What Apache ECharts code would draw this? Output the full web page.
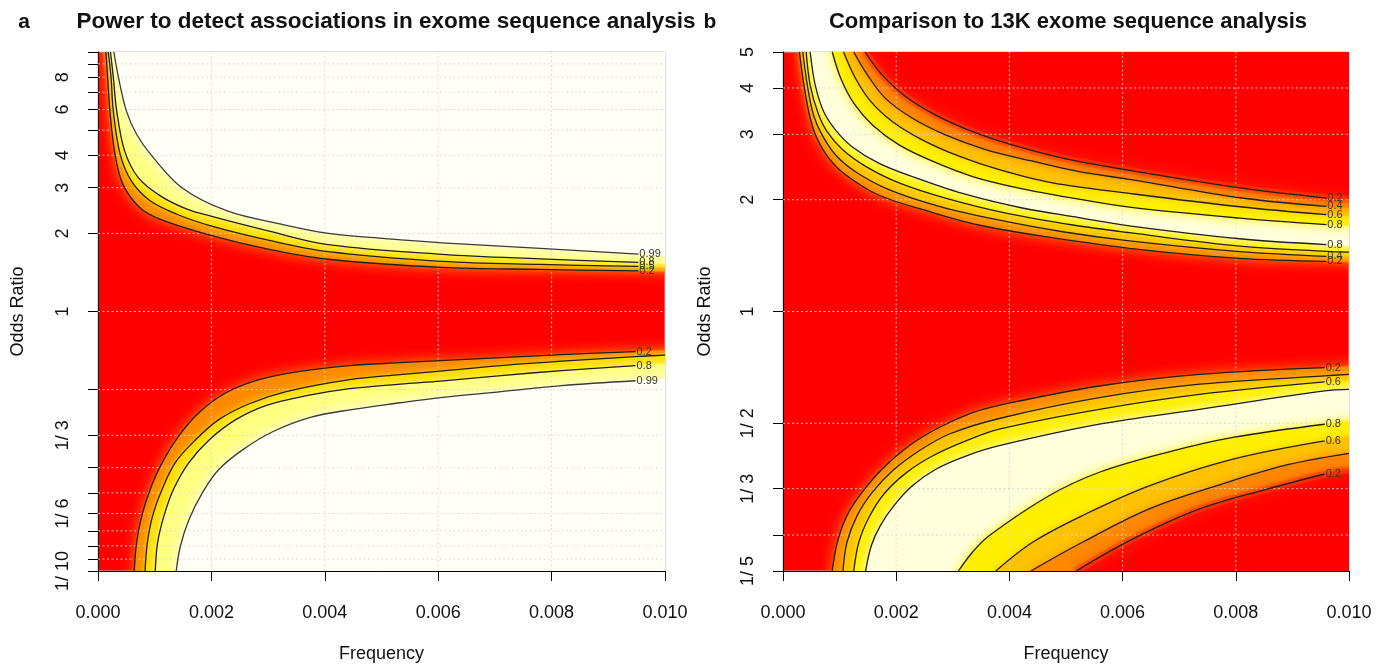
<!DOCTYPE html>
<html><head><meta charset="utf-8">
<script src="https://cdn.jsdelivr.net/npm/echarts@6/dist/echarts.min.js"></script>
<style>html,body{margin:0;padding:0;background:#fff}#c{width:1390px;height:668px}</style>
</head><body><div id="c"></div>
<script>
// ---------- ticks ----------
const freqTicks = [0, 0.002, 0.004, 0.006, 0.008, 0.010];
const leftOrTicks = [0.1, 1/9, 1/8, 1/7, 1/6, 1/5, 1/4, 1/3, 1/2, 1, 2, 3, 4, 5, 6, 7, 8, 9, 10];
const leftOrLabels = ['1/ 10','','','','1/ 6','','','1/ 3','','1','2','3','4','','6','','8','',''];
const rightOrTicks = [0.2, 0.25, 1/3, 0.5, 1, 2, 3, 4, 5];
const rightOrLabels = ['1/ 5','','1/ 3','1/ 2','1','2','3','4','5'];

// ---------- panel a: power contours [frequency, odds ratio] ----------
const aU02 = [[0.00014,10],[0.00017,8.0],[0.00021,5.93],[0.00030,4.04],[0.00044,3.09],[0.00074,2.51],[0.00110,2.265],[0.00199,1.965],[0.00302,1.735],[0.00406,1.59],[0.00607,1.479],[0.0078,1.453],[0.00953,1.433],[0.0100,1.427]];
const aU05 = [[0.00018,10],[0.00023,8.0],[0.00027,5.93],[0.00039,4.04],[0.00059,3.18],[0.00092,2.67],[0.00139,2.37],[0.00199,2.138],[0.00302,1.88],[0.00406,1.70],[0.00607,1.56],[0.0078,1.518],[0.00953,1.492],[0.0100,1.486]];
const aU08 = [[0.00022,10],[0.00027,8.0],[0.00033,5.93],[0.00047,4.16],[0.00071,3.28],[0.00110,2.79],[0.00157,2.48],[0.00199,2.33],[0.00302,2.04],[0.00406,1.81],[0.00607,1.66],[0.0078,1.595],[0.00953,1.546],[0.0100,1.532]];
const aU99 = [[0.00028,10],[0.00036,8.0],[0.00050,5.93],[0.00068,4.82],[0.00095,3.98],[0.00148,3.0],[0.00228,2.44],[0.00323,2.17],[0.00406,2.0],[0.00507,1.91],[0.00607,1.84],[0.0078,1.75],[0.00953,1.665],[0.0100,1.645]];
const aL02 = [[0.00064,0.1],[0.00068,0.128],[0.00077,0.162],[0.00092,0.206],[0.00113,0.261],[0.00142,0.330],[0.00178,0.407],[0.00225,0.485],[0.00284,0.546],[0.00356,0.588],[0.00444,0.619],[0.00533,0.635],[0.00604,0.647],[0.00711,0.664],[0.00818,0.682],[0.00948,0.701],[0.0100,0.707]];
const aL05 = [[0.00083,0.1],[0.00087,0.128],[0.00096,0.162],[0.00113,0.206],[0.00136,0.261],[0.00172,0.320],[0.00213,0.383],[0.00267,0.441],[0.00332,0.491],[0.00444,0.546],[0.00533,0.571],[0.00604,0.589],[0.00711,0.619],[0.00818,0.644],[0.00948,0.670],[0.0100,0.679]];
const aL08 = [[0.00101,0.1],[0.00105,0.128],[0.00116,0.162],[0.00133,0.206],[0.00160,0.261],[0.00196,0.320],[0.00243,0.383],[0.00296,0.434],[0.00368,0.474],[0.00444,0.504],[0.00533,0.525],[0.00604,0.539],[0.00711,0.566],[0.00818,0.592],[0.00948,0.619],[0.0100,0.627]];
const aL99 = [[0.00138,0.1],[0.00145,0.124],[0.00160,0.157],[0.00184,0.200],[0.00213,0.246],[0.00255,0.293],[0.00308,0.344],[0.00373,0.390],[0.00444,0.418],[0.00533,0.445],[0.00604,0.466],[0.00711,0.491],[0.00818,0.518],[0.00948,0.541],[0.0100,0.549]];

// ---------- panel b: comparison contours [frequency, odds ratio] ----------
const bUpI02 = [[0.00029,5.0],[0.00037,4.07],[0.00048,3.32],[0.00060,2.93],[0.00081,2.59],[0.00110,2.34],[0.00169,2.06],[0.00258,1.86],[0.00346,1.71],[0.00464,1.59],[0.00612,1.48],[0.00807,1.39],[0.0096,1.365],[0.0100,1.358]];
const bUpI04 = [[0.00035,5.0],[0.00043,4.07],[0.00054,3.38],[0.00069,2.99],[0.00093,2.64],[0.00128,2.38],[0.00187,2.13],[0.00276,1.92],[0.00376,1.77],[0.00494,1.64],[0.00612,1.55],[0.00807,1.45],[0.0096,1.408],[0.0100,1.401]];
const bUpI06 = [[0.00041,5.0],[0.00048,4.07],[0.00062,3.42],[0.00078,3.05],[0.00105,2.73],[0.00146,2.46],[0.00205,2.22],[0.00287,2.02],[0.00394,1.84],[0.00512,1.71],[0.00612,1.63],[0.00807,1.50],[0.0096,1.452],[0.0100,1.445]];
const bUpI08 = [[0.00048,5.0],[0.00057,4.07],[0.00072,3.45],[0.00093,3.08],[0.00122,2.78],[0.00169,2.51],[0.00228,2.31],[0.00317,2.08],[0.00423,1.90],[0.00523,1.79],[0.00612,1.70],[0.00807,1.57],[0.0096,1.514],[0.0100,1.504]];
const bUpO08 = [[0.00087,5.0],[0.00102,4.25],[0.00125,3.64],[0.00158,3.18],[0.00205,2.81],[0.00264,2.54],[0.00335,2.31],[0.00417,2.15],[0.00512,2.02],[0.00612,1.91],[0.00807,1.784],[0.0096,1.713],[0.0100,1.703]];
const bUpO06 = [[0.00107,5.0],[0.00128,4.25],[0.00155,3.68],[0.00193,3.25],[0.00246,2.90],[0.00311,2.62],[0.00382,2.41],[0.00476,2.22],[0.00612,2.08],[0.00807,1.915],[0.0096,1.823],[0.0100,1.811]];
const bUpO04 = [[0.00125,5.0],[0.00149,4.34],[0.00181,3.75],[0.00228,3.32],[0.00287,2.99],[0.00358,2.73],[0.00441,2.54],[0.00523,2.38],[0.00612,2.27],[0.00807,2.025],[0.0096,1.919],[0.0100,1.903]];
const bUpO02 = [[0.00145,5.0],[0.00175,4.34],[0.00217,3.79],[0.00270,3.38],[0.00335,3.05],[0.00405,2.81],[0.00494,2.59],[0.00612,2.40],[0.00807,2.154],[0.0096,2.021],[0.0100,2.006]];
const bLoI02 = [[0.00087,0.2],[0.00096,0.239],[0.00113,0.282],[0.00140,0.326],[0.00175,0.376],[0.00223,0.435],[0.00276,0.487],[0.00335,0.534],[0.00382,0.559],[0.00559,0.630],[0.00736,0.677],[0.00957,0.706],[0.0100,0.712]];
const bLoI04 = [[0.00106,0.2],[0.00113,0.239],[0.00131,0.282],[0.00158,0.326],[0.00193,0.372],[0.00240,0.421],[0.00293,0.467],[0.00382,0.515],[0.00559,0.586],[0.00736,0.637],[0.00957,0.671],[0.0100,0.677]];
const bLoI06 = [[0.00125,0.2],[0.00134,0.239],[0.00152,0.279],[0.00178,0.322],[0.00217,0.367],[0.00264,0.408],[0.00323,0.448],[0.00382,0.482],[0.00559,0.545],[0.00736,0.598],[0.00957,0.646],[0.0100,0.648]];
const bLoI08 = [[0.00146,0.2],[0.00156,0.234],[0.00172,0.265],[0.00196,0.300],[0.00228,0.339],[0.00270,0.376],[0.00323,0.408],[0.00382,0.435],[0.00559,0.497],[0.00736,0.545],[0.00957,0.611],[0.0100,0.617]];
const bLoO08 = [[0.00310,0.2],[0.00335,0.225],[0.00364,0.249],[0.00470,0.319],[0.00559,0.369],[0.00677,0.417],[0.00795,0.458],[0.00957,0.497],[0.0100,0.509]];
const bLoO06 = [[0.00376,0.2],[0.00441,0.239],[0.00529,0.282],[0.00647,0.339],[0.00795,0.400],[0.00957,0.448],[0.0100,0.459]];
const bLoO04 = [[0.00438,0.2],[0.00529,0.239],[0.00647,0.294],[0.00765,0.339],[0.00883,0.384],[0.0100,0.415]];
const bLoO02 = [[0.00518,0.2],[0.00618,0.244],[0.00736,0.294],[0.00854,0.332],[0.00957,0.365],[0.0100,0.374]];

// ---------- styling ----------
const FONT = "'Liberation Sans', Arial, Helvetica, sans-serif";
const C02 = '#FF8A00', C04 = '#FFC200', C06 = '#FFF000', C08 = '#FFFFDC';

const panelARegions = [
  {pts: aU02, side: 'top', color: C02, blur: 14},
  {pts: aU05, side: 'top', color: '#FFDC00', blur: 8},
  {pts: aU08, side: 'top', color: '#FFFF80', blur: 10},
  {pts: aU99, side: 'top', color: '#FFFFF6', blur: 14},
  {pts: aL02, side: 'bottom', color: C02, blur: 14},
  {pts: aL05, side: 'bottom', color: '#FFDC00', blur: 8},
  {pts: aL08, side: 'bottom', color: '#FFFF80', blur: 10},
  {pts: aL99, side: 'bottom', color: '#FFFFF6', blur: 14}
];
const panelBRegions = [
  {pts: bUpI02, side: 'top', color: C02, blur: 14},
  {pts: bUpI04, side: 'top', color: C04, blur: 8},
  {pts: bUpI06, side: 'top', color: C06, blur: 8},
  {pts: bUpI08, side: 'top', color: C08, blur: 12},
  {pts: bUpO08, side: 'top', color: C06, blur: 12},
  {pts: bUpO06, side: 'top', color: C04, blur: 8},
  {pts: bUpO04, side: 'top', color: C02, blur: 8},
  {pts: bUpO02, side: 'top', color: '#FF0000', blur: 6, glow: true},
  {pts: bLoI02, side: 'bottom', color: C02, blur: 14},
  {pts: bLoI04, side: 'bottom', color: C04, blur: 8},
  {pts: bLoI06, side: 'bottom', color: C06, blur: 8},
  {pts: bLoI08, side: 'bottom', color: C08, blur: 12},
  {pts: bLoO08, side: 'bottom', color: C06, blur: 12},
  {pts: bLoO06, side: 'bottom', color: C04, blur: 8},
  {pts: bLoO04, side: 'bottom', color: C02, blur: 8},
  {pts: bLoO02, side: 'bottom', color: '#FF0000', blur: 6, glow: true}
];
const panelALines = [
  {pts: aU02, label: '0.2'}, {pts: aU05, label: '0.5'}, {pts: aU08, label: '0.8'}, {pts: aU99, label: '0.99', stroke: '#3a3a3a'},
  {pts: aL02, label: '0.2'}, {pts: aL05, label: ''}, {pts: aL08, label: '0.8'}, {pts: aL99, label: '0.99', stroke: '#3a3a3a'}
];
const panelBLines = [
  {pts: bUpI02, label: '0.2'}, {pts: bUpI04, label: '0.4'}, {pts: bUpI06, label: ''}, {pts: bUpI08, label: '0.8'},
  {pts: bUpO08, label: '0.8'}, {pts: bUpO06, label: '0.6'}, {pts: bUpO04, label: '0.4'}, {pts: bUpO02, label: '0.2'},
  {pts: bLoI02, label: '0.2'}, {pts: bLoI04, label: ''}, {pts: bLoI06, label: '0.6'}, {pts: bLoI08, label: ''},
  {pts: bLoO08, label: '0.8'}, {pts: bLoO06, label: '0.6'}, {pts: bLoO04, label: ''}, {pts: bLoO02, label: '0.2'}
];

const SMOOTH = 0.35;

function bandSeries(gi, regions) {
  return {
    type: 'custom', xAxisIndex: gi, yAxisIndex: gi, z: 1, silent: true,
    data: [[0.005, 1]],
    renderItem: function (params, api) {
      const cs = params.coordSys;
      const children = [];
      regions.forEach(function (r) {
        const pts = r.pts;
        const first = pts[0], last = pts[pts.length - 1];
        const far = r.side === 'top' ? 1e4 : 1e-4;
        const curve = pts.map(function (p) { return api.coord(p); });
        const poly = curve.slice();
        poly.push(api.coord([0.013, last[1]]));
        poly.push(api.coord([0.013, far]));
        poly.push(api.coord([first[0], far]));
        children.push({type: 'polyline', shape: {points: poly, smooth: SMOOTH},
          style: {fill: r.color, stroke: null, shadowBlur: r.blur, shadowColor: r.color}});
        if (r.glow) {
          children.push({type: 'polyline', shape: {points: curve, smooth: SMOOTH},
            style: {fill: null, stroke: 'rgba(255,70,0,0.55)', lineWidth: 7, shadowBlur: 14, shadowColor: 'rgba(255,80,0,0.9)'}});
        }
      });
      return {type: 'group', children: children,
        clipPath: {type: 'rect', shape: {x: cs.x, y: cs.y, width: cs.width, height: cs.height}}};
    }
  };
}

function gridSeries(gi, orTicks, orMin, orMax) {
  return {
    type: 'custom', xAxisIndex: gi, yAxisIndex: gi, z: 2, silent: true,
    data: [[0.005, 1]],
    renderItem: function (params, api) {
      const children = [];
      const st = {stroke: 'rgba(215,215,215,0.9)', lineWidth: 1, lineDash: [2, 2.5]};
      freqTicks.forEach(function (f) {
        if (f <= 0 || f >= 0.01) return;
        const a = api.coord([f, orMin]), b = api.coord([f, orMax]);
        children.push({type: 'line', shape: {x1: a[0], y1: a[1], x2: b[0], y2: b[1]}, style: st});
      });
      orTicks.forEach(function (v) {
        if (v <= orMin || v >= orMax) return;
        const a = api.coord([0, v]), b = api.coord([0.01, v]);
        children.push({type: 'line', shape: {x1: a[0], y1: a[1], x2: b[0], y2: b[1]}, style: st});
      });
      return {type: 'group', children: children};
    }
  };
}

function lineSeries(gi, lines) {
  return {
    type: 'custom', xAxisIndex: gi, yAxisIndex: gi, z: 3, silent: true,
    data: [[0.005, 1]],
    renderItem: function (params, api) {
      const children = [];
      lines.forEach(function (l) {
        const pts = l.label ? l.pts.slice(0, -1) : l.pts;
        const coords = pts.map(function (p) { return api.coord(p); });
        children.push({type: 'polyline', shape: {points: coords, smooth: SMOOTH},
          style: {fill: null, stroke: l.stroke || '#1e1e1e', lineWidth: 1.3}});
        if (l.label) {
          const e = coords[coords.length - 1];
          children.push({type: 'text', x: e[0] + 1, y: e[1],
            style: {text: l.label, fill: '#333', fontSize: 11, fontFamily: FONT, align: 'left', verticalAlign: 'middle'}});
        }
      });
      return {type: 'group', children: children};
    }
  };
}

function labelFor(vals, labels) {
  return function (v) {
    for (let i = 0; i < vals.length; i++) {
      if (Math.abs(vals[i] - v) < 1e-6 * Math.max(1, v)) return labels[i];
    }
    return '';
  };
}

function xAxisCfg(gi) {
  return {
    type: 'value', gridIndex: gi, min: 0, max: 0.01, interval: 0.002,
    axisLine: {show: true, onZero: false, lineStyle: {color: '#000', width: 1}},
    axisTick: {show: true, length: 10, lineStyle: {color: '#000'}},
    axisLabel: {formatter: function (v) { return v.toFixed(3); }, fontSize: 18, color: '#111', fontFamily: FONT, margin: 33},
    splitLine: {show: false},
    name: 'Frequency', nameLocation: 'middle', nameGap: 74,
    nameTextStyle: {fontSize: 18, color: '#111', fontFamily: FONT}
  };
}
function yAxisCfg(gi, ticks, labels, min, max, gap) {
  return {
    type: 'log', logBase: 10, gridIndex: gi, min: min, max: max,
    axisLine: {show: true, onZero: false, lineStyle: {color: '#000', width: 1}},
    axisTick: {show: true, length: 10, customValues: ticks, lineStyle: {color: '#000'}},
    axisLabel: {customValues: ticks.filter(function (v, i) { return labels[i]; }),
      formatter: labelFor(ticks, labels), rotate: 90, fontSize: 18, color: '#111', fontFamily: FONT, margin: 26},
    splitLine: {show: false}, minorTick: {show: false},
    name: 'Odds Ratio', nameLocation: 'middle', nameGap: gap, nameRotate: 90,
    nameTextStyle: {fontSize: 18, color: '#111', fontFamily: FONT}
  };
}

const chart = echarts.init(document.getElementById('c'), null, {renderer: 'canvas'});
chart.setOption({
  animation: false,
  backgroundColor: '#ffffff',
  grid: [
    {left: 98, top: 52, width: 567, height: 520, show: true, backgroundColor: '#FF0000', borderColor: '#bdbdbd', borderWidth: 1},
    {left: 783, top: 52, width: 566, height: 520, show: true, backgroundColor: '#FF0000', borderColor: '#bdbdbd', borderWidth: 1}
  ],
  xAxis: [xAxisCfg(0), xAxisCfg(1)],
  yAxis: [
    yAxisCfg(0, leftOrTicks, leftOrLabels, 0.1, 10, 71),
    yAxisCfg(1, rightOrTicks, rightOrLabels, 0.2, 5, 69)
  ],
  graphic: [
    {type: 'text', x: 24, y: 22, style: {text: 'a', fontSize: 21, fontWeight: 'bold', fontFamily: FONT, fill: '#111', align: 'center', verticalAlign: 'middle'}},
    {type: 'text', x: 386, y: 22, style: {text: 'Power to detect associations in exome sequence analysis', fontSize: 22.5, fontWeight: 'bold', fontFamily: FONT, fill: '#111', align: 'center', verticalAlign: 'middle'}},
    {type: 'text', x: 710, y: 22, style: {text: 'b', fontSize: 21, fontWeight: 'bold', fontFamily: FONT, fill: '#111', align: 'center', verticalAlign: 'middle'}},
    {type: 'text', x: 1068, y: 22, style: {text: 'Comparison to 13K exome sequence analysis', fontSize: 22, fontWeight: 'bold', fontFamily: FONT, fill: '#111', align: 'center', verticalAlign: 'middle'}}
  ],
  series: [
    bandSeries(0, panelARegions), gridSeries(0, leftOrTicks, 0.1, 10), lineSeries(0, panelALines),
    bandSeries(1, panelBRegions), gridSeries(1, rightOrTicks, 0.2, 5), lineSeries(1, panelBLines)
  ]
});
</script>
</body></html>
